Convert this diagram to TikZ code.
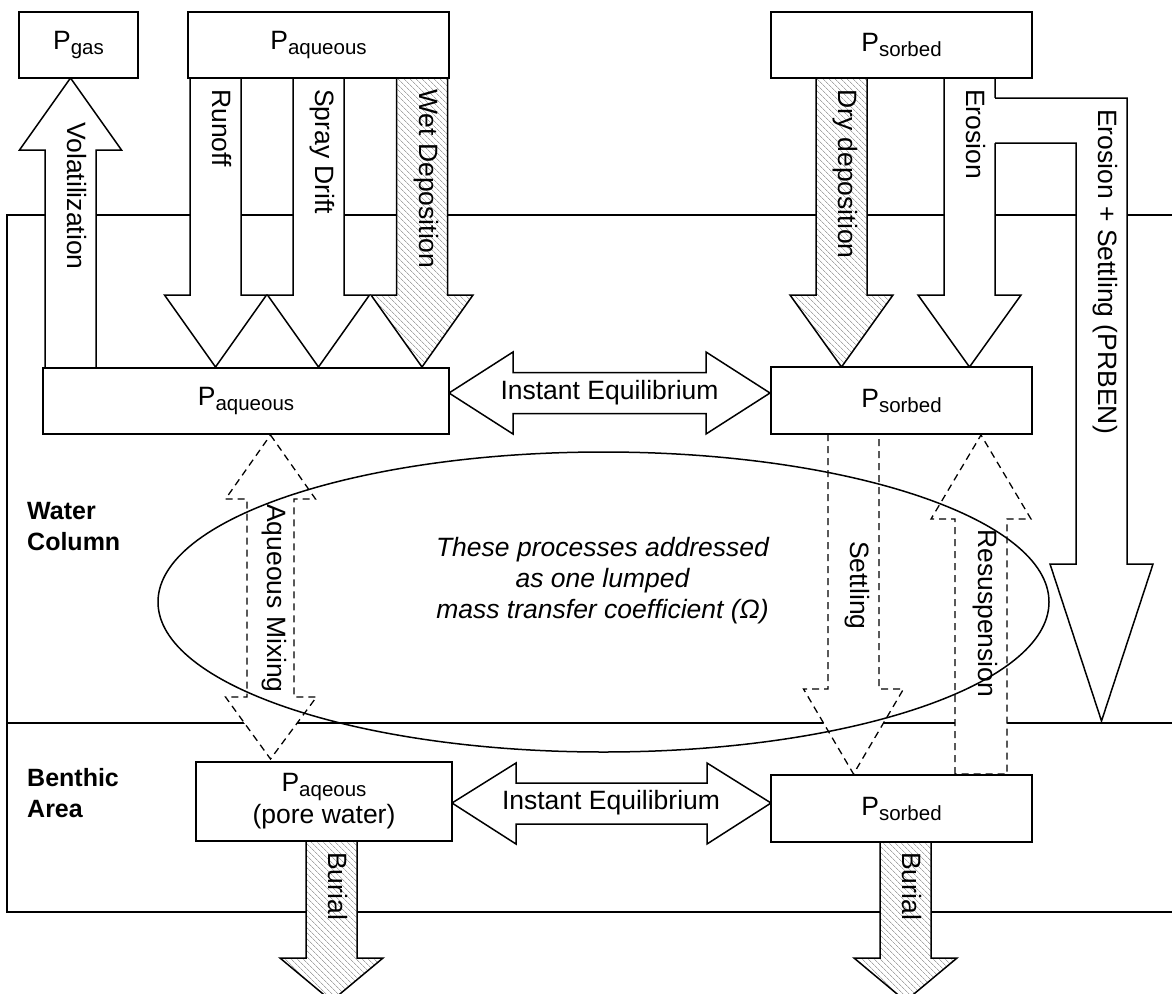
\documentclass[tikz,border=0pt]{standalone}
\usepackage{fontspec}
\setmainfont{Liberation Sans}
\usetikzlibrary{patterns.meta}
\newcommand\sbs[1]{\raisebox{-5pt}{\fontsize{20.5}{20.5}\selectfont #1}}
\tikzset{
  ln/.style={line width=1.5pt},
  box/.style={draw, line width=1.5pt, fill=white, inner sep=0pt, align=center,
    font=\fontsize{26.5}{30}\selectfont},
  blk/.style={draw, line width=1.5pt, fill=white, line join=miter},
  hatch/.style={draw, line width=1.5pt, line join=miter, preaction={fill=white},
    pattern={Lines[angle=-45,distance=4pt,line width=0.7pt]}, pattern color=black!35},
  dsh/.style={draw, line width=1.3pt, fill=white, dash pattern=on 7pt off 5pt},
  vtxt/.style={rotate=-90, anchor=west, inner sep=0pt, text height=0.72em, text depth=0.21em,
    font=\fontsize{26.5}{30}\selectfont},
  lbl/.style={inner sep=0pt, font=\fontsize{26.5}{30}\selectfont},
  side/.style={inner sep=0pt, anchor=west, align=left, font=\fontsize{25}{31}\selectfont\bfseries},
}
\begin{document}
\begin{tikzpicture}[x=1pt,y=-1pt]
\useasboundingbox (0,0) rectangle (1172,993);
% compartment lines
\draw[ln] (1172,215) -- (7,215) -- (7,912) -- (1172,912);
\draw[ln] (7,723) -- (1172,723);

% volatilization (up)
\draw[blk] (45,368) -- (45,150) -- (19.5,150) -- (70.5,78) -- (121.5,150) -- (96,150) -- (96,368) -- cycle;
% runoff, spray drift, wet deposition
\draw[blk] (190,78) -- (190,295) -- (164.5,295) -- (215.5,367) -- (266.5,295) -- (241,295) -- (241,78) -- cycle;
\draw[blk] (293,78) -- (293,295) -- (267.5,295) -- (318.5,367) -- (369.5,295) -- (344,295) -- (344,78) -- cycle;
\draw[hatch] (396.5,78) -- (396.5,295) -- (371,295) -- (422,367) -- (473,295) -- (447.5,295) -- (447.5,78) -- cycle;
% dry deposition, erosion
\draw[hatch] (816,78) -- (816,295) -- (790,295) -- (841.5,367) -- (893,295) -- (867,295) -- (867,78) -- cycle;
\draw[blk] (944,78) -- (944,295) -- (918,295) -- (969.5,367) -- (1021,295) -- (995,295) -- (995,78) -- cycle;
% erosion + settling (bent arrow)
\fill[white] (985,98) -- (1127,98) -- (1127,564) -- (1153,564) -- (1101.5,721) -- (1050,564) -- (1076,564) -- (1076,143) -- (985,143) -- cycle;
\draw[ln, line join=miter] (995,98) -- (1127,98) -- (1127,564) -- (1153,564) -- (1101.5,721) -- (1050,564) -- (1076,564) -- (1076,143) -- (995,143);

% dashed transfer arrows
\draw[dsh] (270.5,435) -- (315.5,499) -- (294,499) -- (294,697) -- (316.5,697) -- (270.5,759) -- (225.5,697) -- (247,697) -- (247,499) -- (225.5,499) -- cycle;
\draw[dsh] (828,434) -- (828,689) -- (803.5,689) -- (853.5,774) -- (903.5,689) -- (879,689) -- (879,434) -- cycle;
\draw[dsh] (955,774) -- (955,519) -- (931,519) -- (981,435) -- (1031,519) -- (1007,519) -- (1007,774) -- cycle;

% instant equilibrium double arrows
\draw[blk] (449,393) -- (513,352) -- (513,372.5) -- (706,372.5) -- (706,352) -- (770,393) -- (706,434) -- (706,413.5) -- (513,413.5) -- (513,434) -- cycle;
\draw[blk] (452,803) -- (516,763) -- (516,783) -- (707,783) -- (707,763) -- (771,803) -- (707,844) -- (707,824) -- (516,824) -- (516,844) -- cycle;

% burial
\draw[hatch] (306,841) -- (306,958) -- (280,958) -- (331.5,1001) -- (383,958) -- (357,958) -- (357,841) -- cycle;
\draw[hatch] (880,842) -- (880,958) -- (854,958) -- (905.5,1001) -- (957,958) -- (931,958) -- (931,842) -- cycle;

% lumped-process ellipse
\draw[ln] (603.5,602) ellipse [x radius=445.5pt, y radius=150pt];

% boxes
\node[box, minimum width=119pt, minimum height=66pt] (pgas) at (78.5,45) {P\sbs{gas}};
\node[box, minimum width=261pt, minimum height=66pt] (paqtop) at (318.5,45) {P\sbs{aqueous}};
\node[box, minimum width=261pt, minimum height=66pt] (psorbtop) at (901.5,45) {P\sbs{sorbed}};
\node[box, minimum width=406pt, minimum height=66pt] (paqw) at (246,401) {P\sbs{aqueous}};
\node[box, minimum width=261pt, minimum height=67pt] (psorbw) at (901.5,400.5) {P\sbs{sorbed}};
\node[box, minimum width=256pt, minimum height=79pt] (paqb) at (324,801.5) {P\sbs{aqeous}\\[2pt](pore water)};
\node[box, minimum width=261pt, minimum height=67pt] (psorbb) at (901.5,808.5) {P\sbs{sorbed}};

% arrow labels
\node[vtxt] (tvol) at (70.5,122) {Volatilization};
\node[vtxt] (trun) at (215.5,89) {Runoff};
\node[vtxt] (tspr) at (318.5,89) {Spray Drift};
\node[vtxt] (twet) at (422,89) {Wet Deposition};
\node[vtxt] (tdry) at (841.5,89) {Dry deposition};
\node[vtxt] (tero) at (969.5,89) {Erosion};
\node[vtxt] (ters) at (1101.5,109) {Erosion + Settling (PRBEN)};
\node[vtxt] (tmix) at (270.5,504) {Aqueous Mixing};
\node[vtxt] (tset) at (853.5,541) {Settling};
\node[vtxt] (tres) at (981,529) {Resuspension};
\node[vtxt] (tbur1) at (331.5,852) {Burial};
\node[vtxt] (tbur2) at (905.5,852) {Burial};
\node[lbl] (teq1) at (609.5,393) {Instant Equilibrium};
\node[lbl] (teq2) at (611,803) {Instant Equilibrium};

% zone labels
\node[side] (twc) at (27,526.5) {Water\\Column};
\node[side] (tba) at (27,793.5) {Benthic\\Area};

% ellipse note
\node[inner sep=0pt, align=center, font=\fontsize{26.5}{31}\itshape] (tnote) at (602.5,581)
  {These processes addressed\\as one lumped\\mass transfer coefficient (Ω)};
\end{tikzpicture}
\end{document}
